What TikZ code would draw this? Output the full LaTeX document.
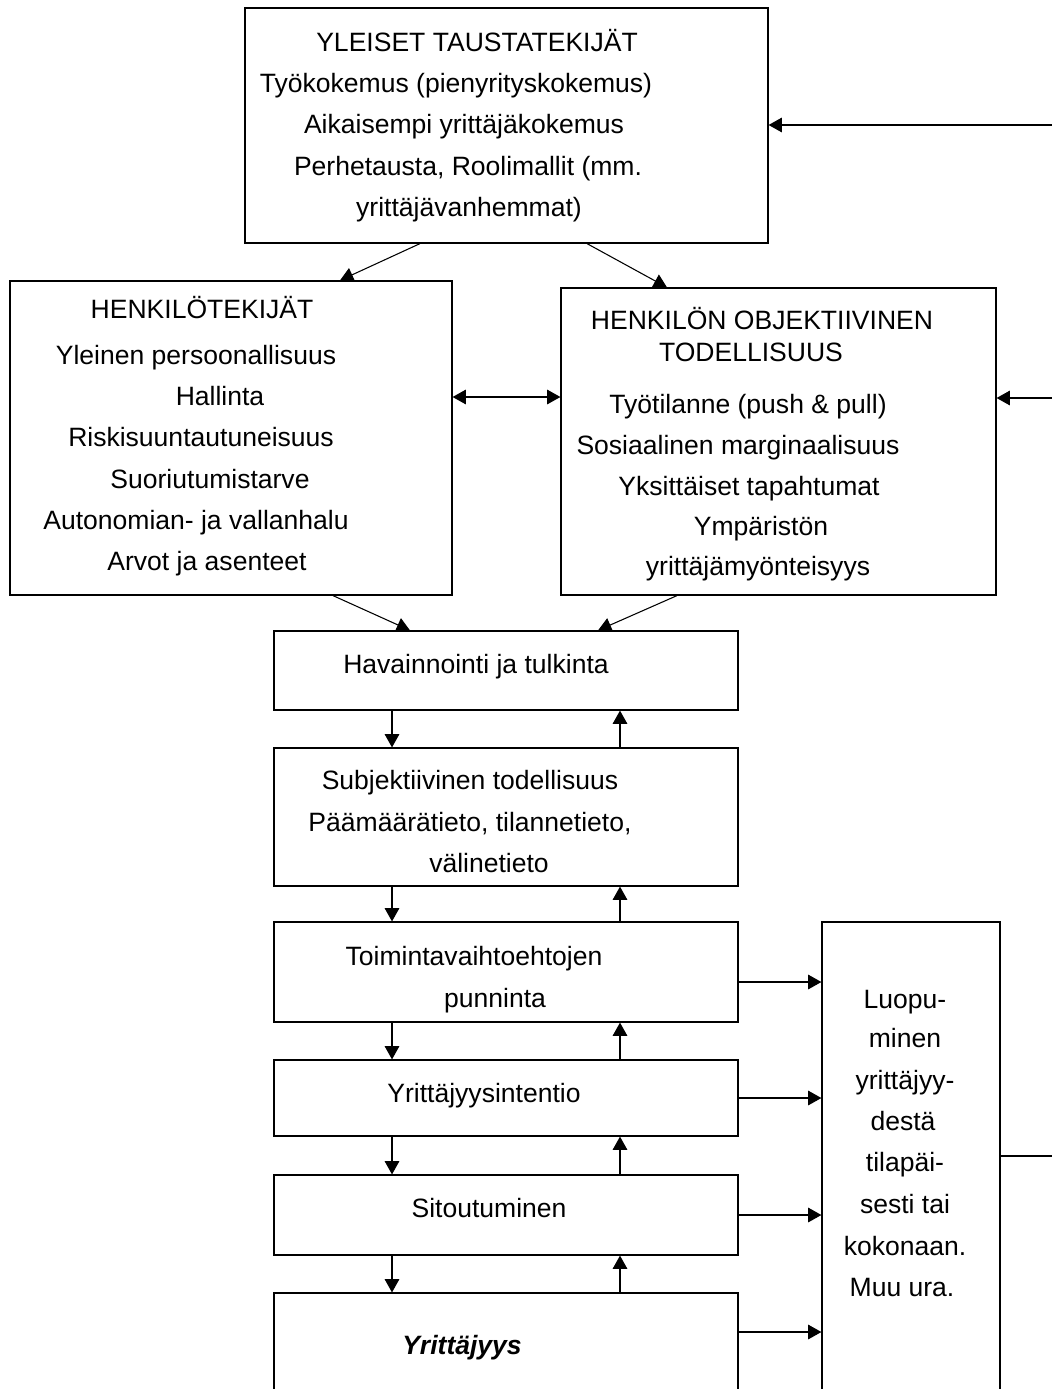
\documentclass[tikz,border=0pt]{standalone}
\usepackage{fontspec}
\setmainfont{Liberation Sans}
\usetikzlibrary{arrows.meta,fit}
\begin{document}
\begin{tikzpicture}[x=0.75pt,y=-0.75pt,
 box/.style={draw,line width=0.9pt,inner sep=0pt},
 lbl/.style={font=\fontsize{19.9}{23}\selectfont,inner sep=0pt,text height=19pt,text depth=4.5pt},
 arr/.style={line width=0.8pt,-{Triangle[length=10pt,width=11pt]}},
 dbl/.style={line width=0.8pt,{Triangle[length=10pt,width=11pt]}-{Triangle[length=10pt,width=11pt]}},
 ln/.style={line width=0.8pt}]
\useasboundingbox (0,0) rectangle (1052,1389);
\clip (0,0) rectangle (1052,1389);
% boxes
\node[box,fit={(245,8) (768,243)}] (top) {};
\node[box,fit={(10,281) (452,595)}] (hen) {};
\node[box,fit={(561,288) (996,595)}] (obj) {};
\node[box,fit={(274,631) (738,710)}] (hav) {};
\node[box,fit={(274,748) (738,886)}] (sub) {};
\node[box,fit={(274,922) (738,1022)}] (toi) {};
\node[box,fit={(274,1060) (738,1136)}] (int) {};
\node[box,fit={(274,1175) (738,1255)}] (sit) {};
\node[box,fit={(274,1293) (738,1420)}] (yri) {};
\node[box,fit={(822,922) (1000,1420)}] (luo) {};
% texts: top
\node[lbl] (t1) at (477,42) {YLEISET TAUSTATEKIJÄT};
\node[lbl] (t2) at (456,83) {Työkokemus (pienyrityskokemus)};
\node[lbl] (t3) at (464,124) {Aikaisempi yrittäjäkokemus};
\node[lbl] (t4) at (468,166) {Perhetausta, Roolimallit (mm.};
\node[lbl] (t5) at (469,207) {yrittäjävanhemmat)};
% left
\node[lbl] (h1) at (202,309) {HENKILÖTEKIJÄT};
\node[lbl] (h2) at (196,355) {Yleinen persoonallisuus};
\node[lbl] (h3) at (220,396) {Hallinta};
\node[lbl] (h4) at (201,437) {Riskisuuntautuneisuus};
\node[lbl] (h5) at (210,479) {Suoriutumistarve};
\node[lbl] (h6) at (196,520) {Autonomian- ja vallanhalu};
\node[lbl] (h7) at (207,561) {Arvot ja asenteet};
% right
\node[lbl] (o1) at (762,320) {HENKILÖN OBJEKTIIVINEN};
\node[lbl] (o2) at (751,352) {TODELLISUUS};
\node[lbl] (o3) at (748,404) {Työtilanne (push \& pull)};
\node[lbl] (o4) at (738,445) {Sosiaalinen marginaalisuus};
\node[lbl] (o5) at (749,486) {Yksittäiset tapahtumat};
\node[lbl] (o6) at (761,526) {Ympäristön};
\node[lbl] (o7) at (758,566) {yrittäjämyönteisyys};
% middle
\node[lbl] (m1) at (476,664) {Havainnointi ja tulkinta};
\node[lbl] (m2) at (470,780) {Subjektiivinen todellisuus};
\node[lbl] (m3) at (470,822) {Päämäärätieto, tilannetieto,};
\node[lbl] (m4) at (489,863) {välinetieto};
\node[lbl] (m5) at (474,956) {Toimintavaihtoehtojen};
\node[lbl] (m6) at (495,998) {punninta};
\node[lbl] (m7) at (484,1093) {Yrittäjyysintentio};
\node[lbl] (m8) at (489,1208) {Sitoutuminen};
\node[lbl,font=\fontsize{19.9}{23}\selectfont\bfseries\itshape] (m9) at (462,1345) {Yrittäjyys};
% right column
\node[lbl] (r1) at (905,999) {Luopu-};
\node[lbl] (r2) at (905,1038) {minen};
\node[lbl] (r3) at (905,1080) {yrittäjyy-};
\node[lbl] (r4) at (903,1121) {destä};
\node[lbl] (r5) at (905,1162) {tilapäi-};
\node[lbl] (r6) at (905,1204) {sesti tai};
\node[lbl] (r7) at (905,1246) {kokonaan.};
\node[lbl] (r8) at (902,1287) {Muu ura.};
% connectors
\draw[arr] (top.south -| 420,0) -- (hen.north -| 340,0);
\draw[arr] (top.south -| 587,0) -- (obj.north -| 667,0);
\draw[dbl] (hen.east |- 0,397) -- (obj.west |- 0,397);
\coordinate (fb1) at (1052,125);
\coordinate (fb2) at (1052,398);
\coordinate (fb3) at (1052,1156);
\draw[arr] (fb1) -- (fb1 -| top.east);
\draw[arr] (fb2) -- (fb2 -| obj.east);
\draw[ln] (fb3 -| luo.east) -- (fb3);
\draw[arr] (hen.south -| 333,0) -- (hav.north -| 410,0);
\draw[arr] (obj.south -| 677,0) -- (hav.north -| 598,0);
\foreach \a/\b in {hav/sub,sub/toi,toi/int,int/sit,sit/yri}{
  \draw[arr] (\a.south -| 392,0) -- (\b.north -| 392,0);
  \draw[arr] (\b.north -| 620,0) -- (\a.south -| 620,0);
}
\foreach \a/\y in {toi/982,int/1098,sit/1215,yri/1332}{
  \draw[arr] (\a.east |- 0,\y) -- (luo.west |- 0,\y);
}
\end{tikzpicture}
\end{document}
